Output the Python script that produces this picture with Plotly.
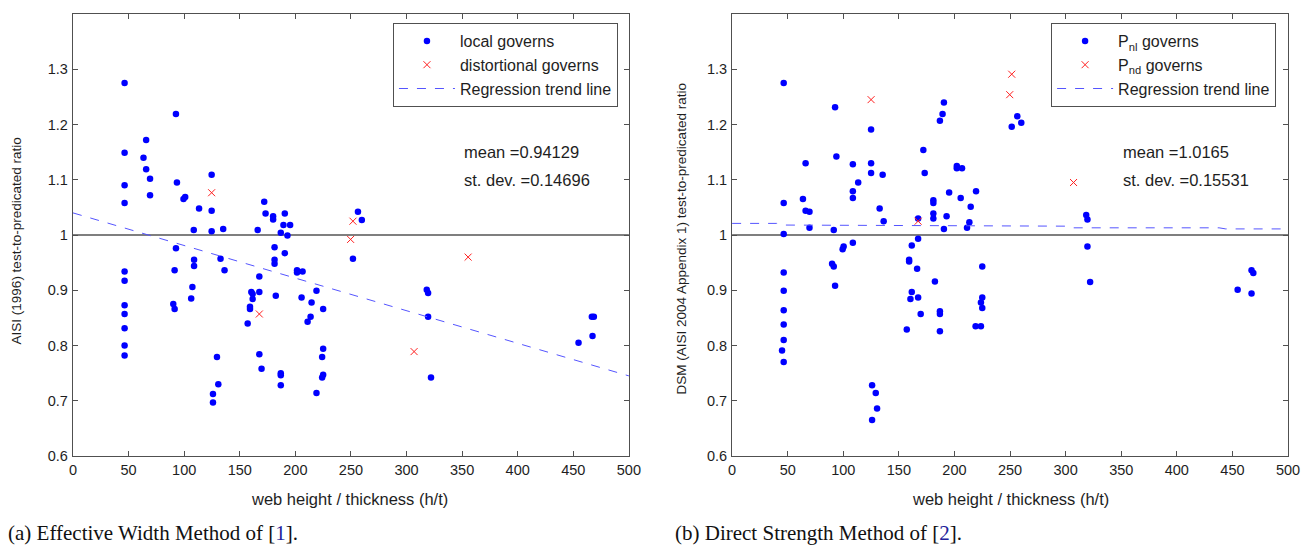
import plotly.graph_objects as go

# ---------------- data ----------------
# Left panel: AISI (1996) effective width method
left_local_x = [46.4, 92.6, 65.8, 46.4, 63.4, 65.8, 69.3, 46.4, 93.5, 124.7, 69.3, 100.9, 99.4, 46.4, 113.4,
                124.7, 172, 173.2, 180, 180, 190.5, 189.3, 195.3, 186.9, 192.9, 108.6, 124.7, 135.1, 166.1,
                92.6, 181.3, 256.3, 259.8, 190.5, 251.8, 108.9, 108.9, 132.7, 181.3, 181.3, 46.4, 46.4, 91.4,
                136.3, 167.6, 201.5, 201.5, 206.5, 107.4, 160.4, 161.6, 161.6, 167.6, 219, 182.4, 205.6, 214.6,
                90.2, 91.4, 106.3, 159.2, 159.2, 225, 46.4, 46.4, 213.7, 211, 157.1, 46.4, 46.4, 46.4, 167.6,
                129.5, 225, 224.1, 169.6, 186.9, 186.9, 225, 224.1, 130.7, 186.9, 125.9, 219, 125.9,
                318.2, 319.4, 319.4, 322, 466.7, 468.5, 467.3, 454.7]
left_local_y = [1.275, 1.219, 1.172, 1.149, 1.140, 1.119, 1.102, 1.090, 1.095, 1.109, 1.072, 1.069, 1.065, 1.058, 1.048,
                1.044, 1.060, 1.039, 1.034, 1.028, 1.039, 1.018, 1.018, 1.004, 0.999, 1.009, 1.007, 1.011, 1.009,
                0.976, 0.978, 1.042, 1.027, 0.967, 0.957, 0.955, 0.944, 0.957, 0.955, 0.948, 0.934, 0.917, 0.936,
                0.936, 0.925, 0.936, 0.932, 0.934, 0.906, 0.897, 0.893, 0.884, 0.897, 0.899, 0.890, 0.887, 0.878,
                0.875, 0.866, 0.885, 0.870, 0.866, 0.866, 0.873, 0.857, 0.852, 0.843, 0.840, 0.831, 0.800, 0.782, 0.784,
                0.779, 0.794, 0.779, 0.758, 0.750, 0.746, 0.747, 0.742, 0.730, 0.728, 0.712, 0.714, 0.697,
                0.901, 0.895, 0.852, 0.742, 0.852, 0.852, 0.817, 0.805]
left_dist_x = [124.7, 251.8, 249.7, 167.6, 355.4, 306.8]
left_dist_y = [1.0765, 1.025, 0.992, 0.857, 0.960, 0.789]
left_trend_x = [0, 500]
left_trend_y = [1.040, 0.745]

# Right panel: DSM (AISI 2004 Appendix 1)
right_nl_x = [46.4, 92.6, 190.5, 189.3, 186.9, 256.5, 260.1, 251.5, 125, 172, 93.8, 66.1, 108.6, 125, 125, 135.4,
              173.2, 202.1, 202.1, 206.8, 113.4, 108.6, 108.6, 195.2, 219.4, 46.4, 63.7, 66.1, 69.6, 132.7, 181,
              181, 205.6, 214.6, 181, 181, 192.9, 69.6, 136.3, 167.3, 190.5, 211.3, 213.4, 91.4, 46.4, 108.6,
              100.3, 99.4, 167.3, 161.6, 318.5, 319.6, 319.6, 322, 467.2, 468.8, 454.7, 467.2,
              89.9, 91.4, 159.2, 159.2, 166.4, 225, 46.4, 92.6, 182.4, 46.4, 161.6, 160.4, 167.3, 225, 223.8, 225,
              186.9, 186.9, 169.6, 46.4, 46.4, 157.1, 186.9, 219, 223.8, 46.4, 44.9, 46.4, 125.9, 129.2, 130.4, 125.9]
right_nl_y = [1.275, 1.231, 1.240, 1.219, 1.207, 1.215, 1.203, 1.196, 1.191, 1.154, 1.142, 1.130, 1.128, 1.130, 1.112, 1.109,
              1.112, 1.125, 1.121, 1.121, 1.095, 1.079, 1.067, 1.077, 1.079, 1.058, 1.065, 1.044, 1.042, 1.048, 1.063,
              1.058, 1.067, 1.051, 1.039, 1.030, 1.034, 1.013, 1.025, 1.030, 1.011, 1.013, 1.023, 1.009, 1.002, 0.986,
              0.979, 0.974, 0.993, 0.981, 1.036, 1.028, 0.979, 0.915, 0.936, 0.931, 0.901, 0.894,
              0.948, 0.943, 0.955, 0.952, 0.939, 0.943, 0.932, 0.908, 0.916, 0.899, 0.897, 0.884, 0.887, 0.887, 0.878, 0.868,
              0.862, 0.857, 0.857, 0.864, 0.838, 0.829, 0.826, 0.835, 0.835, 0.810, 0.791, 0.770, 0.728, 0.714, 0.686, 0.665]
right_nd_x = [125, 251.5, 249.7, 167.3, 307.1]
right_nd_y = [1.245, 1.291, 1.254, 1.025, 1.095]
right_trend_x = [0, 40, 46, 300, 306, 438, 444, 500]
right_trend_y = [1.021, 1.021, 1.018, 1.016, 1.013, 1.013, 1.011, 1.011]

ref_ratio = 1.0
x_ticks = [0, 50, 100, 150, 200, 250, 300, 350, 400, 450, 500]
y_ticks = [0.6, 0.7, 0.8, 0.9, 1.0, 1.1, 1.2, 1.3]
y_tick_text = ["0.6", "0.7", "0.8", "0.9", "1", "1.1", "1.2", "1.3"]

stats_left = ["mean =0.94129", "st. dev. =0.14696"]
stats_right = ["mean =1.0165", "st. dev. =0.15531"]

# ---------------- figure ----------------
FONT = "Liberation Sans, Arial, sans-serif"
SERIF = "Liberation Serif, Times New Roman, serif"
BLUE = "#0000ff"
RED = "#ff2020"
TREND = "#5555ff"
TXT = "#1e1e1e"

fig = go.Figure()

def add_panel(xa, ya, legend, lx, ly, ln, dx, dy, dn, tx, ty):
    fig.add_trace(go.Scatter(x=[0, 500], y=[ref_ratio, ref_ratio], mode="lines",
                             line=dict(color="#7f7f7f", width=2), showlegend=False,
                             hoverinfo="skip", xaxis=xa, yaxis=ya))
    fig.add_trace(go.Scatter(x=lx, y=ly, mode="markers", name=ln,
                             marker=dict(color=BLUE, size=6.5, line=dict(width=0)),
                             xaxis=xa, yaxis=ya, legend=legend, legendgroup=legend + "a"))
    fig.add_trace(go.Scatter(x=dx, y=dy, mode="markers", name=dn,
                             marker=dict(color=RED, size=7, symbol="x-thin", line=dict(color=RED, width=1)),
                             xaxis=xa, yaxis=ya, legend=legend, legendgroup=legend + "b"))
    fig.add_trace(go.Scatter(x=tx, y=ty, mode="lines", name="Regression trend line",
                             line=dict(color=TREND, width=1, dash="dash"),
                             xaxis=xa, yaxis=ya, legend=legend, legendgroup=legend + "c"))

add_panel("x", "y", "legend", left_local_x, left_local_y, "local governs",
          left_dist_x, left_dist_y, "distortional governs", left_trend_x, left_trend_y)
add_panel("x2", "y2", "legend2", right_nl_x, right_nl_y, "P<sub>nl</sub> governs",
          right_nd_x, right_nd_y, "P<sub>nd</sub> governs", right_trend_x, right_trend_y)

axis_common = dict(showline=True, linecolor="#505050", linewidth=1.3, mirror="ticks",
                   ticks="inside", ticklen=5, tickcolor="#505050", showgrid=False, zeroline=False,
                   tickfont=dict(family=FONT, size=14.5, color=TXT))

d1 = (633 - 73) / 1224
d2 = (737 - 73) / 1224
legend_common = dict(xanchor="right", yanchor="top", bgcolor="white", bordercolor="#505050",
                     borderwidth=1, font=dict(family=FONT, size=16, color=TXT),
                     tracegroupgap=0, itemwidth=56)
fig.update_layout(
    width=1312, height=545,
    margin=dict(l=73, r=15, t=14, b=89),
    paper_bgcolor="white", plot_bgcolor="white",
    font=dict(family=FONT, size=14, color=TXT),
    xaxis=dict(domain=[0, d1], range=[0, 500], tickvals=x_ticks, anchor="y", **axis_common),
    yaxis=dict(domain=[0, 1], range=[0.6, 1.4], tickvals=y_ticks, ticktext=y_tick_text,
               anchor="x", ticklabelstandoff=1, **axis_common),
    xaxis2=dict(domain=[d2, 1], range=[0, 500], tickvals=x_ticks, anchor="y2", **axis_common),
    yaxis2=dict(domain=[0, 1], range=[0.6, 1.4], tickvals=y_ticks, ticktext=y_tick_text,
                anchor="x2", ticklabelstandoff=1, **axis_common),
    legend=dict(x=(622 - 73) / 1224, y=(456 - 23) / 442, **legend_common),
    legend2=dict(x=(1285 - 73) / 1224, y=(456 - 23) / 442, **legend_common),
    showlegend=True,
)

def px_x(p):
    return (p - 73) / 1224

def px_y(p):
    return (456 - p) / 442

ann = []
for i, t in enumerate(stats_left):
    ann.append(dict(text=t, x=px_x(465), y=px_y(152 + 28 * i), xanchor="left", yanchor="middle",
                    font=dict(size=16.5)))
for i, t in enumerate(stats_right):
    ann.append(dict(text=t, x=px_x(1129), y=px_y(152 + 28 * i), xanchor="left", yanchor="middle",
                    font=dict(size=16.5)))
ann.append(dict(text="AISI (1996) test-to-predicated ratio", x=px_x(17), y=px_y(241), textangle=-90,
                xanchor="center", yanchor="middle", font=dict(size=13.5)))
ann.append(dict(text="DSM (AISI 2004 Appendix 1) test-to-predicated ratio", x=px_x(685), y=px_y(239),
                textangle=-90, xanchor="center", yanchor="middle", font=dict(size=13.5)))
ann.append(dict(text="web height / thickness (h/t)", x=px_x(352), y=px_y(499), xanchor="center",
                yanchor="middle", font=dict(size=16.5)))
ann.append(dict(text="web height / thickness (h/t)", x=px_x(1017), y=px_y(499), xanchor="center",
                yanchor="middle", font=dict(size=16.5)))
ann.append(dict(text="(a) Effective Width Method of [<span style='color:#22229a'>1</span>].",
                x=px_x(5), y=px_y(533), xanchor="left", yanchor="middle",
                font=dict(family=SERIF, size=21, color="#111")))
ann.append(dict(text="(b) Direct Strength Method of [<span style='color:#22229a'>2</span>].",
                x=px_x(677), y=px_y(533), xanchor="left", yanchor="middle",
                font=dict(family=SERIF, size=21, color="#111")))
for a in ann:
    a.update(xref="paper", yref="paper", showarrow=False)
    a["font"].setdefault("family", FONT)
    a["font"].setdefault("color", TXT)
fig.update_layout(annotations=ann)

fig.write_html("out.html")
